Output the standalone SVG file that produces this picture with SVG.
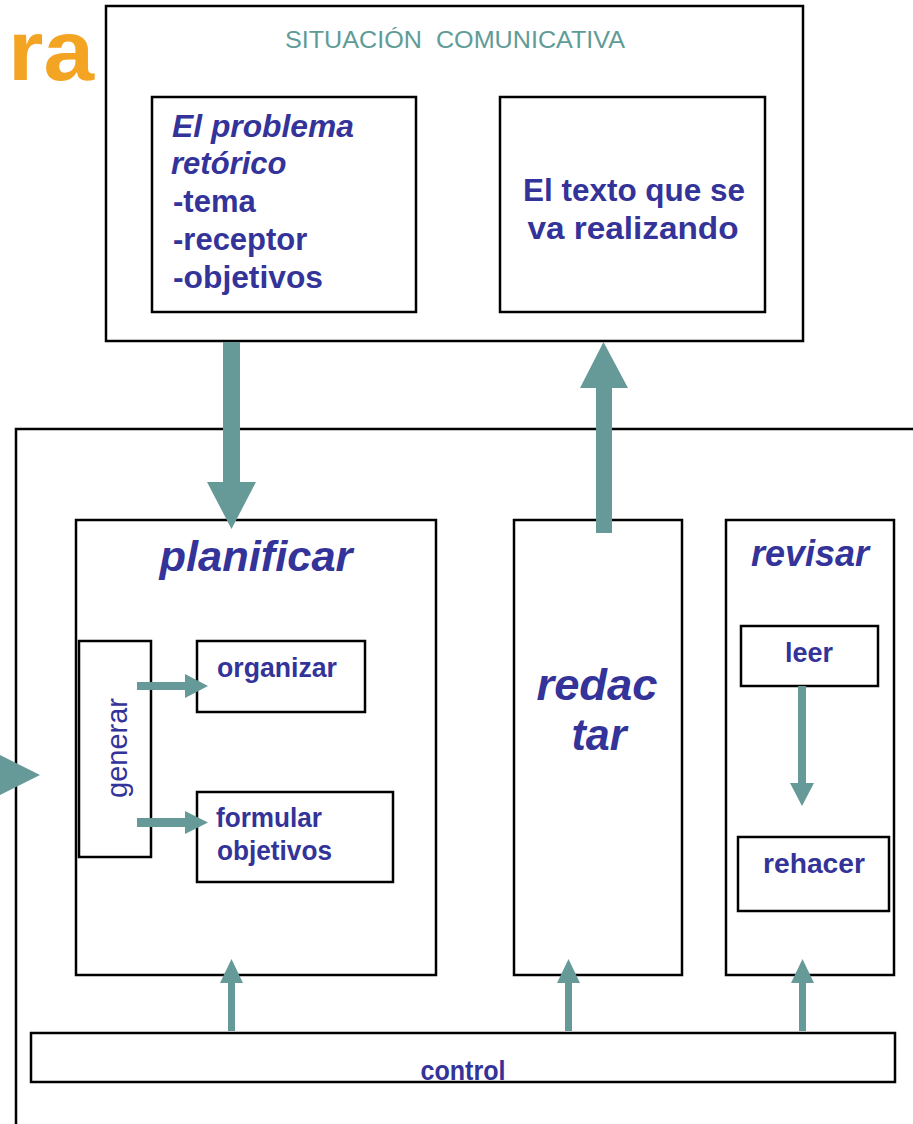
<svg xmlns="http://www.w3.org/2000/svg" width="913" height="1124" viewBox="0 0 913 1124">
<style>
.box{fill:none;stroke:#000;stroke-width:2.5}
.arw{fill:#669a98;stroke:none}
.t{font-family:"Liberation Sans",Arial,sans-serif;font-weight:bold;fill:#333399}
.ti{font-family:"Liberation Sans",Arial,sans-serif;font-weight:bold;font-style:italic;fill:#333399}
</style>
<rect width="913" height="1124" fill="#fff"/>
<text x="8" y="80" font-family="'Liberation Sans',Arial,sans-serif" font-weight="bold" font-size="86" fill="#f4a423" textLength="86" lengthAdjust="spacingAndGlyphs">ra</text>

<g id="situacion">
<rect class="box" x="106" y="6" width="697" height="335"/>
<text x="455" y="48" text-anchor="middle" xml:space="preserve" font-family="'Liberation Sans',Arial,sans-serif" font-size="24" fill="#5f9c98" textLength="340" lengthAdjust="spacingAndGlyphs">SITUACIÓN  COMUNICATIVA</text>
</g>
<g id="problema">
<rect class="box" x="152" y="97" width="264" height="215"/>
<text class="ti" x="172" y="137" font-size="31" textLength="182" lengthAdjust="spacingAndGlyphs">El problema</text>
<text class="ti" x="171" y="174" font-size="31">retórico</text>
<text class="t" x="173" y="212" font-size="31">-tema</text>
<text class="t" x="173" y="250" font-size="31">-receptor</text>
<text class="t" x="173" y="288" font-size="31" textLength="150" lengthAdjust="spacingAndGlyphs">-objetivos</text>
</g>
<g id="texto">
<rect class="box" x="500" y="97" width="265" height="215"/>
<text class="t" x="634" y="201" font-size="31" text-anchor="middle" textLength="222" lengthAdjust="spacingAndGlyphs">El texto que se</text>
<text class="t" x="633" y="239" font-size="31" text-anchor="middle" textLength="211" lengthAdjust="spacingAndGlyphs">va realizando</text>
</g>

<g id="proceso">
<path d="M16,1124 V429 H913" fill="none" stroke="#000" stroke-width="2.5"/>
</g>

<g id="planificar">
<rect class="box" x="76" y="520" width="360" height="455"/>
<text class="ti" x="256" y="571" font-size="42" text-anchor="middle" textLength="193" lengthAdjust="spacingAndGlyphs">planificar</text>
</g>
<g id="generar">
<rect class="box" x="79" y="641" width="72" height="216"/>
<text x="0" y="0" transform="translate(127,748) rotate(-90)" text-anchor="middle" font-family="'Liberation Sans',Arial,sans-serif" font-size="29" fill="#333399" textLength="100" lengthAdjust="spacingAndGlyphs">generar</text>
</g>
<g id="organizar">
<rect class="box" x="197" y="641" width="168" height="71"/>
<text class="t" x="217" y="677" font-size="27" textLength="120" lengthAdjust="spacingAndGlyphs">organizar</text>
</g>
<g id="formular">
<rect class="box" x="197" y="792" width="196" height="90"/>
<text class="t" x="216" y="827" font-size="27" textLength="106" lengthAdjust="spacingAndGlyphs">formular</text>
<text class="t" x="217" y="860" font-size="27" textLength="115" lengthAdjust="spacingAndGlyphs">objetivos</text>
</g>
<g id="redactar">
<rect class="box" x="514" y="520" width="168" height="455"/>
<text class="ti" x="597" y="700" font-size="45" text-anchor="middle" textLength="121" lengthAdjust="spacingAndGlyphs">redac</text>
<text class="ti" x="599" y="750" font-size="45" text-anchor="middle" textLength="55" lengthAdjust="spacingAndGlyphs">tar</text>
</g>
<g id="revisar">
<rect class="box" x="726" y="520" width="168" height="455"/>
<text class="ti" x="810" y="566" font-size="36" text-anchor="middle" textLength="118" lengthAdjust="spacingAndGlyphs">revisar</text>
</g>
<g id="leer">
<rect class="box" x="741" y="626" width="137" height="60"/>
<text class="t" x="809" y="662" font-size="27" text-anchor="middle" textLength="48" lengthAdjust="spacingAndGlyphs">leer</text>
</g>
<g id="rehacer">
<rect class="box" x="738" y="837" width="151" height="74"/>
<text class="t" x="814" y="873" font-size="28" text-anchor="middle" textLength="102" lengthAdjust="spacingAndGlyphs">rehacer</text>
</g>
<g id="control">
<rect class="box" x="31" y="1033" width="864" height="49"/>
<text class="t" x="463" y="1080" font-size="27" text-anchor="middle" textLength="85" lengthAdjust="spacingAndGlyphs">control</text>
</g>

<g id="connectors">
<path class="arw" d="M223,342 H240 V482 H256 L231.5,529 L207,482 H223 Z"/>
<path class="arw" d="M596,533 V388 H580 L603.5,342 L628,388 H612 V533 Z"/>
<path class="arw" d="M0,755 L40,775 L0,795 Z"/>
<path class="arw" d="M137,682 H185 V674 L208,686 L185,698 V690 H137 Z"/>
<path class="arw" d="M137,818 H185 V811 L208,822.5 L185,834 V827 H137 Z"/>
<path class="arw" d="M798,686 H806 V783 H814 L802,806 L790,783 H798 Z"/>
<path class="arw" d="M228,1031 V983 H220 L231.5,959 L243,983 H235 V1031 Z"/>
<path class="arw" d="M565,1031 V983 H557 L568.5,959 L580,983 H572 V1031 Z"/>
<path class="arw" d="M799,1031 V983 H791 L802.5,959 L814,983 H806 V1031 Z"/>
</g>
</svg>
